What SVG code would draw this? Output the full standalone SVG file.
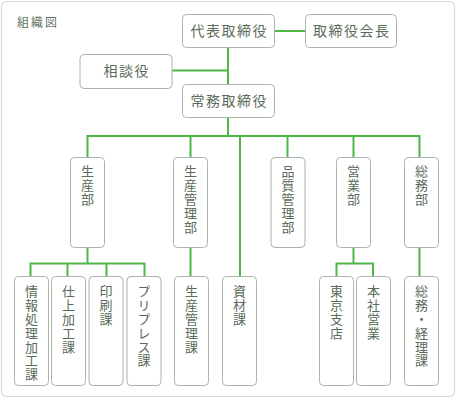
<svg xmlns="http://www.w3.org/2000/svg" width="456" height="400" viewBox="0 0 456 400">
<style>
.frame{fill:#fff;stroke:#d6ded6;stroke-width:1.2}
.box{fill:#fff;stroke:#aab4aa;stroke-width:1}
.t{font-family:"Noto Sans CJK JP","Noto Sans",sans-serif;fill:#5a6b5a;text-anchor:middle}
.h{font-size:14px;letter-spacing:1.5px}
.v{font-family:"Noto Sans CJK JP","Noto Sans",sans-serif;fill:#5a6b5a;font-size:13px;letter-spacing:0.8px;writing-mode:vertical-rl;text-orientation:upright;text-anchor:start}
.title{font-family:"Noto Sans CJK JP","Noto Sans",sans-serif;fill:#667566;font-size:12px;letter-spacing:2px}
.c{fill:none;stroke:#4db848;stroke-width:2}
</style>
<rect class="frame" x="1.5" y="1.5" width="453" height="395" rx="5"/>
<text class="title" x="17" y="27">組織図</text>
<g id="connectors">
<path class="c" d="M274.5 31H305.5"/>
<path class="c" d="M228 47.5V84.5"/>
<path class="c" d="M172 70.5H228"/>
<path class="c" d="M228 117.5V136"/>
<path class="c" d="M87.5 157.5V136H419.5V157.5"/>
<path class="c" d="M190.5 136V157.5"/>
<path class="c" d="M240 136V276.5"/>
<path class="c" d="M287.5 136V157.5"/>
<path class="c" d="M353.5 136V157.5"/>
<path class="c" d="M87.5 247.5V263.5"/>
<path class="c" d="M30.5 276.5V263.5H144.5V276.5"/>
<path class="c" d="M67.5 263.5V276.5"/>
<path class="c" d="M106.5 263.5V276.5"/>
<path class="c" d="M190.5 247.5V276.5"/>
<path class="c" d="M353.5 247.5V263.5"/>
<path class="c" d="M336.5 276.5V263.5H373V276.5"/>
<path class="c" d="M419.5 247.5V276.5"/>
</g>
<g id="daihyo">
<rect class="box" x="182.5" y="14.5" width="92" height="33" rx="4"/>
<text class="t h" x="229.2" y="36">代表取締役</text>
</g>
<g id="kaicho">
<rect class="box" x="305.5" y="14.5" width="91" height="33" rx="4"/>
<text class="t h" x="351.7" y="36">取締役会長</text>
</g>
<g id="sodanyaku">
<rect class="box" x="80" y="54.5" width="92" height="34" rx="4"/>
<text class="t h" x="126.7" y="76">相談役</text>
</g>
<g id="jomu">
<rect class="box" x="182.5" y="84.5" width="92" height="33" rx="4"/>
<text class="t h" x="229.2" y="106">常務取締役</text>
</g>
<g id="seisanbu">
<rect class="box" x="70.5" y="157.5" width="34" height="90" rx="4"/>
<text class="v" x="87.5" y="165">生産部</text>
</g>
<g id="seisankanribu">
<rect class="box" x="173.5" y="157.5" width="34" height="90" rx="4"/>
<text class="v" x="190.5" y="165">生産管理部</text>
</g>
<g id="hinshitsu">
<rect class="box" x="271" y="157.5" width="34" height="90" rx="4"/>
<text class="v" x="288" y="165">品質管理部</text>
</g>
<g id="eigyobu">
<rect class="box" x="336.5" y="157.5" width="34" height="90" rx="4"/>
<text class="v" x="353.5" y="165">営業部</text>
</g>
<g id="somubu">
<rect class="box" x="404.5" y="157.5" width="34" height="90" rx="4"/>
<text class="v" x="421.5" y="165">総務部</text>
</g>
<g id="johoshori">
<rect class="box" x="14.5" y="276.5" width="34" height="109" rx="4"/>
<text class="v" x="31.5" y="285">情報処理加工課</text>
</g>
<g id="shiage">
<rect class="box" x="51.5" y="276.5" width="34" height="109" rx="4"/>
<text class="v" x="68.5" y="285">仕上加工課</text>
</g>
<g id="insatsu">
<rect class="box" x="89" y="276.5" width="34" height="109" rx="4"/>
<text class="v" x="106" y="285">印刷課</text>
</g>
<g id="prepress">
<rect class="box" x="127" y="276.5" width="34" height="109" rx="4"/>
<text class="v" x="144" y="285">プリプレス課</text>
</g>
<g id="seisankanrika">
<rect class="box" x="174.5" y="276.5" width="34" height="109" rx="4"/>
<text class="v" x="191.5" y="285">生産管理課</text>
</g>
<g id="shizai">
<rect class="box" x="222.5" y="276.5" width="34" height="109" rx="4"/>
<text class="v" x="239.5" y="285">資材課</text>
</g>
<g id="tokyo">
<rect class="box" x="319.5" y="276.5" width="34" height="109" rx="4"/>
<text class="v" x="336.5" y="285">東京支店</text>
</g>
<g id="honsha">
<rect class="box" x="356.5" y="276.5" width="34" height="109" rx="4"/>
<text class="v" x="373.5" y="285">本社営業</text>
</g>
<g id="somukeiri">
<rect class="box" x="404.5" y="276.5" width="34" height="109" rx="4"/>
<text class="v" x="421.5" y="285">総務・経理課</text>
</g>
</svg>
